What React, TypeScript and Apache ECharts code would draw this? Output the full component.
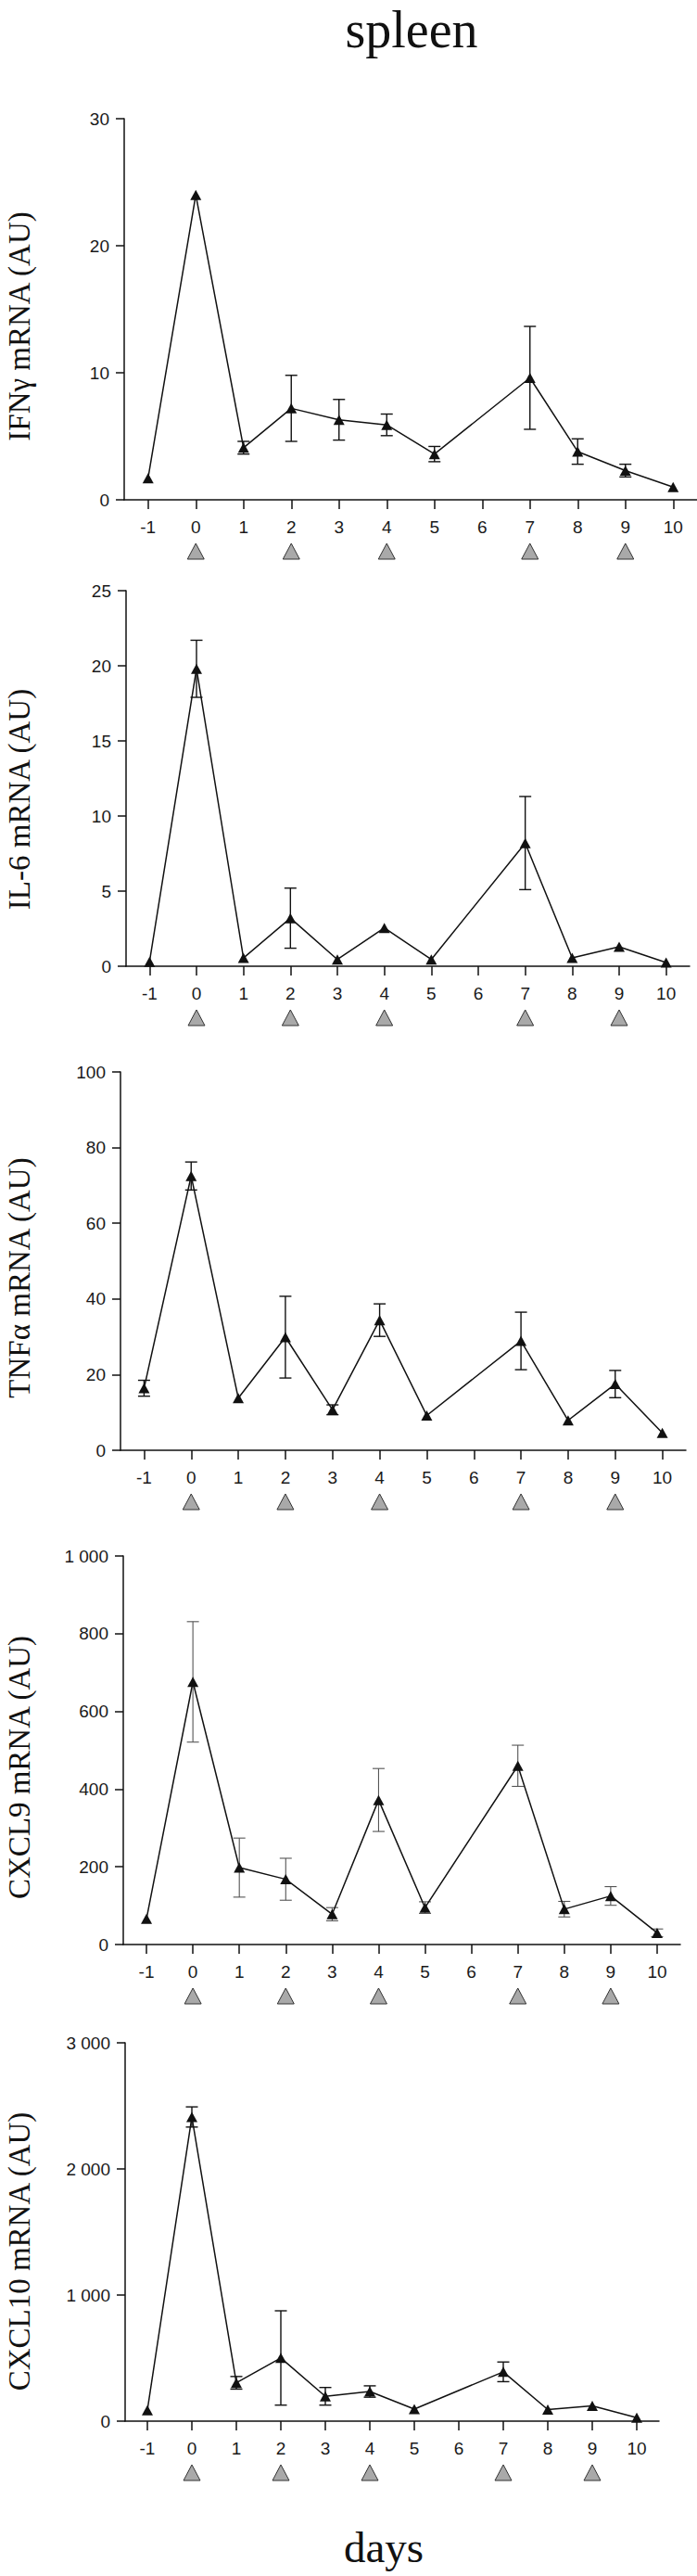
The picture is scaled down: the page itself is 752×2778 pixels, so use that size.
import React, { useEffect, useRef } from "react";
import * as echarts from "echarts";

// ---- data ----
const days = [-1, 0, 1, 2, 3, 4, 5, 7, 8, 9, 10];
const dayTicks = [-1, 0, 1, 2, 3, 4, 5, 6, 7, 8, 9, 10];
const injectionDays = [0, 2, 4, 7, 9];

const ifngMean = [1.7, 24.0, 4.1, 7.2, 6.3, 5.9, 3.6, 9.6, 3.8, 2.3, 1.0];
const ifngErr = [0, 0, 0.5, 2.6, 1.6, 0.85, 0.6, 4.05, 1.0, 0.5, 0];

const il6Mean = [0.3, 19.8, 0.55, 3.2, 0.45, 2.55, 0.45, 8.2, 0.55, 1.3, 0.25];
const il6Err = [0, 1.9, 0, 2.0, 0, 0, 0, 3.1, 0, 0, 0];

const tnfMean = [16.4, 72.5, 13.8, 29.9, 10.7, 34.4, 9.2, 28.9, 7.9, 17.5, 4.6];
const tnfErr = [2.1, 3.7, 0, 10.8, 1.3, 4.3, 0, 7.6, 0, 3.6, 0];

const cxcl9Mean = [66, 676, 198, 168, 78, 372, 95, 460, 91, 125, 30];
const cxcl9Err = [0, 155, 76, 54, 17, 81, 15, 53, 20, 24, 10];

const cxcl10Mean = [87, 2412, 304, 501, 197, 235, 96, 391, 92, 122, 27];
const cxcl10Err = [0, 80, 50, 374, 70, 45, 0, 78, 0, 0, 0];

const yTitles = [
  "IFNγ mRNA (AU)",
  "IL-6 mRNA (AU)",
  "TNFα mRNA (AU)",
  "CXCL9 mRNA (AU)",
  "CXCL10 mRNA (AU)",
];
const yMaxes = [30, 25, 100, 1000, 3000];
const yIntervals = [10, 5, 20, 200, 1000];
const means = [ifngMean, il6Mean, tnfMean, cxcl9Mean, cxcl10Mean];
const errs = [ifngErr, il6Err, tnfErr, cxcl9Err, cxcl10Err];

// ---- layout / style ----
const layout = [
  { left: 134, top: 128, width: 618, height: 411, titleY: 352 },
  { left: 136, top: 637, width: 608, height: 405, titleY: 862 },
  { left: 130, top: 1156, width: 610, height: 408, titleY: 1378 },
  { left: 133, top: 1678, width: 601, height: 419, titleY: 1906 },
  { left: 135, top: 2203, width: 576, height: 408, titleY: 2428 },
];
const errColors = ["#111", "#111", "#111", "#555", "#111"];

const SANS = "'Liberation Sans', Arial, sans-serif";
const SERIF = "'Liberation Serif', 'Times New Roman', serif";
const INK = "#111";
const LABEL = "#1a1a1a";

function fmt(v: number): string {
  const s = String(v);
  return s.replace(/\B(?=(\d{3})+(?!\d))/g, " ");
}

export default function App() {
  const ref = useRef<HTMLDivElement>(null);
  useEffect(() => {
    document.body.style.margin = "0";
    if (!ref.current) return;
    const chart = echarts.init(ref.current, undefined, { renderer: "svg" });

    const grid: any[] = [];
    const xAxis: any[] = [];
    const yAxis: any[] = [];
    const series: any[] = [];
    const graphic: any[] = [];

    layout.forEach((L, i) => {
      grid.push({ left: L.left, top: L.top, width: L.width, height: L.height, containLabel: false });
      xAxis.push({
        type: "value",
        gridIndex: i,
        min: -1.5,
        max: 10.5,
        axisLine: { show: true, onZero: false, lineStyle: { color: INK, width: 1.5 } },
        axisTick: { show: true, customValues: dayTicks, length: 10, lineStyle: { color: INK, width: 1.5 } },
        axisLabel: {
          show: true,
          customValues: dayTicks,
          margin: 20,
          fontSize: 19,
          fontFamily: SANS,
          color: LABEL,
          formatter: (v: number) => String(v),
        },
        splitLine: { show: false },
      });
      yAxis.push({
        type: "value",
        gridIndex: i,
        min: 0,
        max: yMaxes[i],
        interval: yIntervals[i],
        axisLine: { show: true, onZero: false, lineStyle: { color: INK, width: 1.5 } },
        axisTick: { show: true, length: 9, lineStyle: { color: INK, width: 1.5 } },
        axisLabel: {
          margin: 16,
          fontSize: 19,
          fontFamily: SANS,
          color: LABEL,
          formatter: (v: number) => fmt(v),
        },
        splitLine: { show: false },
      });

      const m = means[i];
      const e = errs[i];
      const ec = errColors[i];
      const ew = i === 3 ? 1.1 : 1.4;

      series.push({
        type: "custom",
        xAxisIndex: i,
        yAxisIndex: i,
        encode: { x: 0, y: 1 },
        data: days.map((d, k) => [d, m[k], e[k]]),
        z: 2,
        renderItem: (_p: any, api: any) => {
          const x = api.value(0);
          const y = api.value(1);
          const er = api.value(2);
          if (!er) return { type: "group", children: [] };
          const top = api.coord([x, y + er]);
          const bot = api.coord([x, Math.max(y - er, 0)]);
          const hw = 6.5;
          const st = { stroke: ec, lineWidth: ew };
          return {
            type: "group",
            children: [
              { type: "line", shape: { x1: top[0], y1: top[1], x2: bot[0], y2: bot[1] }, style: st },
              { type: "line", shape: { x1: top[0] - hw, y1: top[1], x2: top[0] + hw, y2: top[1] }, style: st },
              { type: "line", shape: { x1: bot[0] - hw, y1: bot[1], x2: bot[0] + hw, y2: bot[1] }, style: st },
            ],
          };
        },
      });

      series.push({
        type: "line",
        xAxisIndex: i,
        yAxisIndex: i,
        data: days.map((d, k) => [d, m[k]]),
        symbol: "triangle",
        symbolSize: [12, 11],
        showSymbol: true,
        lineStyle: { color: INK, width: 1.5 },
        itemStyle: { color: INK },
        z: 3,
      });

      series.push({
        type: "custom",
        xAxisIndex: i,
        yAxisIndex: i,
        encode: { x: 0, y: 1 },
        data: injectionDays.map((d) => [d, 0]),
        renderItem: (_p: any, api: any) => {
          const p = api.coord([api.value(0), 0]);
          const cx = p[0];
          const by = p[1] + 64;
          return {
            type: "polygon",
            shape: { points: [[cx - 9, by], [cx + 9, by], [cx, by - 17]] },
            style: { fill: "#a9a9a9", stroke: "#333", lineWidth: 1 },
          };
        },
      });

      graphic.push({
        type: "text",
        x: 21,
        y: L.titleY,
        rotation: Math.PI / 2,
        style: {
          text: yTitles[i],
          font: `33px ${SERIF}`,
          fill: INK,
          align: "center",
          verticalAlign: "middle",
        },
      });
    });

    graphic.push({
      type: "text",
      x: 444,
      y: 32,
      style: { text: "spleen", font: `56px ${SERIF}`, fill: INK, align: "center", verticalAlign: "middle" },
    });
    graphic.push({
      type: "text",
      x: 414,
      y: 2747,
      style: { text: "days", font: `47px ${SERIF}`, fill: INK, align: "center", verticalAlign: "middle" },
    });

    chart.setOption({
      animation: false,
      backgroundColor: "#fff",
      grid,
      xAxis,
      yAxis,
      series,
      graphic,
    });
    return () => chart.dispose();
  }, []);
  return <div ref={ref} style={{ width: 752, height: 2778 }} />;
}
